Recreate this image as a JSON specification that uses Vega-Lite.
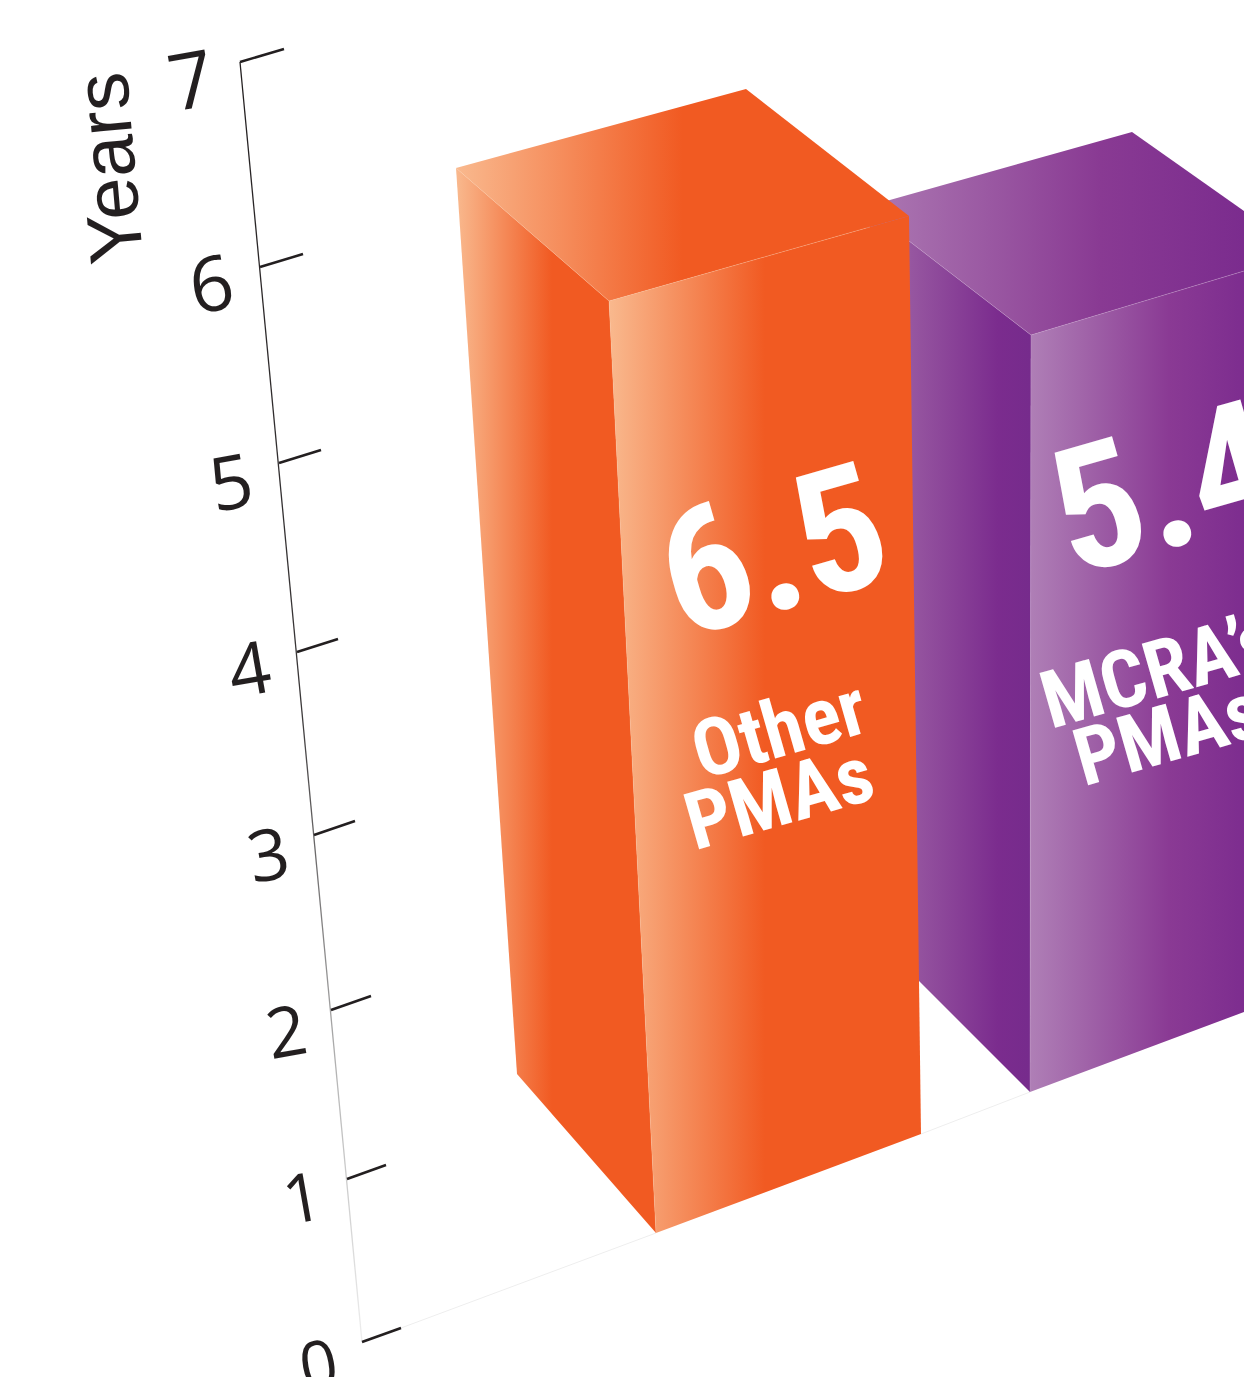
{"$schema":"https://vega.github.io/schema/vega-lite/v6.json","width":1244,"height":1377,"autosize":"none","padding":0,"background":"#ffffff","view":{"stroke":null},
"datasets":{
"outlines":[
{"shape":"purpleLeft","i":0,"sx":865,"sy":207},{"shape":"purpleLeft","i":1,"sx":1031,"sy":335},{"shape":"purpleLeft","i":2,"sx":1030,"sy":1092},{"shape":"purpleLeft","i":3,"sx":920,"sy":982},{"shape":"purpleLeft","i":4,"sx":895,"sy":955},
{"shape":"purpleTop","i":0,"sx":865,"sy":207},{"shape":"purpleTop","i":1,"sx":1132,"sy":132},{"shape":"purpleTop","i":2,"sx":1244,"sy":211},{"shape":"purpleTop","i":3,"sx":1244,"sy":271},{"shape":"purpleTop","i":4,"sx":1031,"sy":335},
{"shape":"purpleFront","i":0,"sx":1031,"sy":335},{"shape":"purpleFront","i":1,"sx":1244,"sy":271},{"shape":"purpleFront","i":2,"sx":1244,"sy":1012},{"shape":"purpleFront","i":3,"sx":1030,"sy":1092},
{"shape":"orangeLeft","i":0,"sx":456,"sy":168},{"shape":"orangeLeft","i":1,"sx":609,"sy":301},{"shape":"orangeLeft","i":2,"sx":656,"sy":1233},{"shape":"orangeLeft","i":3,"sx":517,"sy":1074},
{"shape":"orangeTop","i":0,"sx":456,"sy":168},{"shape":"orangeTop","i":1,"sx":746,"sy":89},{"shape":"orangeTop","i":2,"sx":909,"sy":216},{"shape":"orangeTop","i":3,"sx":609,"sy":301},
{"shape":"orangeFront","i":0,"sx":609,"sy":301},{"shape":"orangeFront","i":1,"sx":909,"sy":216},{"shape":"orangeFront","i":2,"sx":921,"sy":1134},{"shape":"orangeFront","i":3,"sx":656,"sy":1233}
],
"edges":[
{"edge":"o1","i":0,"sx":456,"sy":168},{"edge":"o1","i":1,"sx":609,"sy":301},{"edge":"o1","i":2,"sx":656,"sy":1233},
{"edge":"o2","i":0,"sx":609,"sy":301},{"edge":"o2","i":1,"sx":870,"sy":227},
{"edge":"p1","i":0,"sx":909,"sy":241},{"edge":"p1","i":1,"sx":1031,"sy":335},{"edge":"p1","i":2,"sx":1030,"sy":1092},
{"edge":"p2","i":0,"sx":1031,"sy":335},{"edge":"p2","i":1,"sx":1244,"sy":271}
],
"floor":[
{"part":"a","i":0,"sx":401,"sy":1328},{"part":"a","i":1,"sx":656,"sy":1233},
{"part":"b","i":0,"sx":921,"sy":1134},{"part":"b","i":1,"sx":1030,"sy":1092}
],
"axisLine":[{"i":0,"sx":240,"sy":62},{"i":1,"sx":362,"sy":1342}],
"ticks":[
{"year":7,"i":0,"sx":240,"sy":62},{"year":7,"i":1,"sx":284,"sy":49},
{"year":6,"i":0,"sx":260,"sy":267},{"year":6,"i":1,"sx":303,"sy":254},
{"year":5,"i":0,"sx":279,"sy":463},{"year":5,"i":1,"sx":321,"sy":450},
{"year":4,"i":0,"sx":297,"sy":652},{"year":4,"i":1,"sx":338,"sy":639},
{"year":3,"i":0,"sx":314,"sy":835},{"year":3,"i":1,"sx":355,"sy":821},
{"year":2,"i":0,"sx":331,"sy":1010},{"year":2,"i":1,"sx":371,"sy":996},
{"year":1,"i":0,"sx":347,"sy":1179},{"year":1,"i":1,"sx":386,"sy":1165},
{"year":0,"i":0,"sx":362,"sy":1342},{"year":0,"i":1,"sx":401,"sy":1328}
],
"tickLabels":[
{"year":7,"sx":192,"sy":85},{"year":6,"sx":212,"sy":288},{"year":5,"sx":232,"sy":487},{"year":4,"sx":250,"sy":673},{"year":3,"sx":269,"sy":859},{"year":2,"sx":287,"sy":1035},{"year":1,"sx":303,"sy":1202},{"year":0,"sx":319,"sy":1368}
],
"axisTitle":[{"label":"Years","sx":112,"sy":168}],
"values":[{"label":"6.5","years":6.5,"sx":775,"sy":558},{"label":"5.4","years":5.4,"sx":1167,"sy":495}],
"names":[
{"label":"Other","sx":780,"sy":732},{"label":"PMAs","sx":780,"sy":801},{"label":"MCRA’s","sx":1159,"sy":673},{"label":"PMAs","sx":1169,"sy":737}
]
},
"encoding":{
"x":{"field":"sx","type":"quantitative","axis":null,"scale":{"domain":[0,1244],"range":[0,1244]}},
"y":{"field":"sy","type":"quantitative","axis":null,"scale":{"domain":[0,1377],"range":[0,1377]}}
},
"layer":[
{"data":{"name":"floor"},"mark":{"type":"line","stroke":"#eeeeee","strokeWidth":1},"encoding":{"detail":{"field":"part"},"order":{"field":"i"}}},
{"data":{"name":"outlines"},"transform":[{"filter":"datum.shape=='purpleLeft'"}],"mark":{"type":"line","filled":true,"interpolate":"linear-closed","stroke":null,"fill":{"gradient":"linear","x1":0,"y1":0,"x2":1,"y2":0,"stops":[{"offset":0,"color":"#b084b8"},{"offset":0.28,"color":"#9656a0"},{"offset":0.8,"color":"#7b2c8e"},{"offset":1,"color":"#762b8c"}]}},"encoding":{"order":{"field":"i"}}},
{"data":{"name":"outlines"},"transform":[{"filter":"datum.shape=='purpleTop'"}],"mark":{"type":"line","filled":true,"interpolate":"linear-closed","stroke":null,"fill":{"gradient":"linear","x1":0,"y1":0,"x2":1,"y2":0,"stops":[{"offset":0,"color":"#ad7ab3"},{"offset":0.62,"color":"#893a93"},{"offset":1,"color":"#7b2c8e"}]}},"encoding":{"order":{"field":"i"}}},
{"data":{"name":"outlines"},"transform":[{"filter":"datum.shape=='purpleFront'"}],"mark":{"type":"line","filled":true,"interpolate":"linear-closed","stroke":null,"fill":{"gradient":"linear","x1":0,"y1":0,"x2":1,"y2":0,"stops":[{"offset":0,"color":"#af7fb6"},{"offset":0.65,"color":"#8a3a94"},{"offset":1,"color":"#7d2d8f"}]}},"encoding":{"order":{"field":"i"}}},
{"data":{"name":"outlines"},"transform":[{"filter":"datum.shape=='orangeLeft'"}],"mark":{"type":"line","filled":true,"interpolate":"linear-closed","stroke":null,"fill":{"gradient":"linear","x1":0,"y1":0,"x2":1,"y2":0,"stops":[{"offset":0,"color":"#f9b98e"},{"offset":0.48,"color":"#f15a22"},{"offset":1,"color":"#f15a22"}]}},"encoding":{"order":{"field":"i"}}},
{"data":{"name":"outlines"},"transform":[{"filter":"datum.shape=='orangeTop'"}],"mark":{"type":"line","filled":true,"interpolate":"linear-closed","stroke":null,"fill":{"gradient":"linear","x1":0,"y1":0,"x2":1,"y2":0,"stops":[{"offset":0,"color":"#f9b98e"},{"offset":0.5,"color":"#f15a22"},{"offset":1,"color":"#f15a22"}]}},"encoding":{"order":{"field":"i"}}},
{"data":{"name":"outlines"},"transform":[{"filter":"datum.shape=='orangeFront'"}],"mark":{"type":"line","filled":true,"interpolate":"linear-closed","stroke":null,"fill":{"gradient":"linear","x1":0,"y1":0,"x2":1,"y2":0,"stops":[{"offset":0,"color":"#f9b98e"},{"offset":0.5,"color":"#f15a22"},{"offset":1,"color":"#f15a22"}]}},"encoding":{"order":{"field":"i"}}},
{"data":{"name":"edges"},"transform":[{"filter":"datum.edge[0]=='o'"}],"mark":{"type":"line","stroke":"#fbc9a6","strokeWidth":0.6,"opacity":0.5},"encoding":{"detail":{"field":"edge"},"order":{"field":"i"}}},
{"data":{"name":"edges"},"transform":[{"filter":"datum.edge[0]=='p'"}],"mark":{"type":"line","stroke":"#c9a3cf","strokeWidth":0.6,"opacity":0.6},"encoding":{"detail":{"field":"edge"},"order":{"field":"i"}}},
{"data":{"name":"axisLine"},"mark":{"type":"line","strokeWidth":1.3,"stroke":{"gradient":"linear","x1":0,"y1":0,"x2":0,"y2":1,"stops":[{"offset":0,"color":"#231f20"},{"offset":0.5,"color":"#3a3738"},{"offset":0.8,"color":"#b8b8b8"},{"offset":1,"color":"#eeeeee"}]}},"encoding":{"order":{"field":"i"}}},
{"data":{"name":"ticks"},"mark":{"type":"line","stroke":"#231f20","strokeWidth":2.5},"encoding":{"detail":{"field":"year"},"order":{"field":"i"}}},
{"data":{"name":"tickLabels"},"mark":{"type":"text","font":"Open Sans","fill":"#231f20","align":"center","baseline":"middle","angle":-10},"encoding":{"text":{"field":"year","type":"quantitative"},"size":{"field":"year","type":"quantitative","legend":null,"scale":{"domain":[0,7],"range":[66,78],"zero":false}}}},
{"data":{"name":"axisTitle"},"mark":{"type":"text","font":"Liberation Sans","fill":"#231f20","align":"center","baseline":"middle","angle":-95,"fontSize":76},"encoding":{"text":{"field":"label"}}},
{"data":{"name":"values"},"mark":{"type":"text","font":"Roboto Condensed, Liberation Sans","fontWeight":"bold","fill":"#ffffff","align":"center","baseline":"middle","angle":-16,"fontSize":174},"encoding":{"text":{"field":"label"}}},
{"data":{"name":"names"},"mark":{"type":"text","font":"Roboto Condensed, Liberation Sans","fontWeight":"bold","fill":"#ffffff","align":"center","baseline":"middle","angle":-16,"fontSize":80},"encoding":{"text":{"field":"label"}}}
]}
